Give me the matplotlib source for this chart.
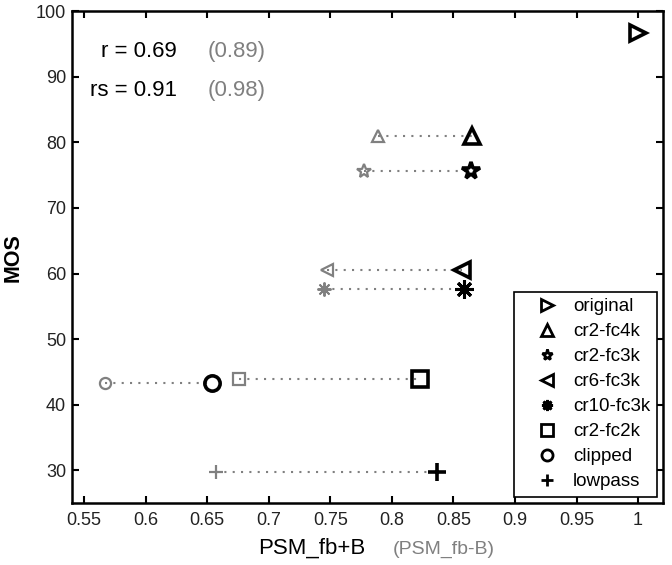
import matplotlib
matplotlib.use("Agg")
import matplotlib.pyplot as plt
import numpy as np

# ---- data ----
conditions = ["original", "cr2-fc4k", "cr2-fc3k", "cr6-fc3k", "cr10-fc3k", "cr2-fc2k", "clipped", "lowpass"]
mos = [96.6, 80.9, 75.6, 60.5, 57.7, 44.0, 43.3, 29.8]
psm_fb_plus_b = [1.0, 0.865, 0.864, 0.857, 0.859, 0.823, 0.654, 0.837]
psm_fb_minus_b = [None, 0.789, 0.777, 0.747, 0.7445, 0.676, 0.567, 0.6575]
markers = [">", "^", "*", "<", (8, 2, 0), "s", "o", "+"]
xticks = [0.55, 0.6, 0.65, 0.7, 0.75, 0.8, 0.85, 0.9, 0.95, 1.0]
xtick_labels = ["0.55", "0.6", "0.65", "0.7", "0.75", "0.8", "0.85", "0.9", "0.95", "1"]
yticks = [30, 40, 50, 60, 70, 80, 90, 100]
r_text = ("r = 0.69", "(0.89)")
rs_text = ("rs = 0.91", "(0.98)")

plt.rcParams["font.family"] = ["Liberation Sans", "DejaVu Sans"]

fig = plt.figure(figsize=(6.72, 5.65), dpi=100)
ax = fig.add_axes([0.1067, 0.1092, 0.8795, 0.8713])

grey = "#808080"
black_ms = {">": 12, "^": 12, "*": 13, "<": 12, "s": 11, "o": 11, "+": 13, "ast": 13}
grey_ms = {">": 8, "^": 9, "*": 10, "<": 9, "s": 8, "o": 8, "+": 10, "ast": 10}
black_mew = {"ast": 2.2}
grey_mew = {"ast": 1.4}

handles = []
for name, y, xb, xg, m in zip(conditions, mos, psm_fb_plus_b, psm_fb_minus_b, markers):
    key = m if isinstance(m, str) else "ast"
    if xg is not None:
        ax.plot([xg, xb], [y, y], linestyle=(0, (1, 3)), color=grey, lw=1.5, zorder=1)
        ax.plot([xg], [y], marker=m, linestyle="none", ms=grey_ms[key], mfc="none",
                mec=grey, mew=grey_mew.get(key, 1.6), zorder=2)
    h, = ax.plot([xb], [y], marker=m, linestyle="none", ms=black_ms[key], mfc="none",
                 mec="black", mew=black_mew.get(key, 2.6), zorder=3, label=name)
    handles.append(h)

ax.set_xlim(0.54, 1.02)
ax.set_ylim(25, 100)
ax.set_xticks(xticks)
ax.set_xticklabels(xtick_labels)
ax.set_yticks(yticks)
ax.tick_params(direction="in", length=5, width=1.5, top=True, right=True,
               labelsize=13, labelcolor="#222222")
ax.tick_params(axis="x", pad=6)
ax.tick_params(axis="y", pad=4)
for s in ax.spines.values():
    s.set_linewidth(1.8)

ax.text(0.178, 0.917, r_text[0], transform=ax.transAxes, ha="right", va="center",
        fontsize=16, color="black")
ax.text(0.230, 0.917, r_text[1], transform=ax.transAxes, ha="left", va="center",
        fontsize=16, color=grey)
ax.text(0.178, 0.8395, rs_text[0], transform=ax.transAxes, ha="right", va="center",
        fontsize=16, color="black")
ax.text(0.230, 0.8395, rs_text[1], transform=ax.transAxes, ha="left", va="center",
        fontsize=16, color=grey)

fig.text(0.3835, 0.0195, "PSM_fb+B", ha="left", va="baseline", fontsize=16, color="black")
fig.text(0.585, 0.0195, "(PSM_fb-B)", ha="left", va="baseline", fontsize=14, color=grey)
fig.text(0.019, 0.544, "MOS", rotation=90, ha="center", va="center", fontsize=15.5,
         fontweight="bold", color="black")

leg = ax.legend(handles=handles, loc="lower right", bbox_to_anchor=(0.99, 0.013),
                borderaxespad=0, fontsize=13.5, frameon=True, fancybox=False,
                edgecolor="black", framealpha=1, labelspacing=0.42,
                handlelength=2.8, handletextpad=0.0, borderpad=0.35, numpoints=1)
leg.get_frame().set_linewidth(1.2)
for lh in leg.legend_handles:
    lh.set_markersize(8)
    lh.set_markeredgewidth(2.0)

fig.savefig("out.png", dpi=100)
